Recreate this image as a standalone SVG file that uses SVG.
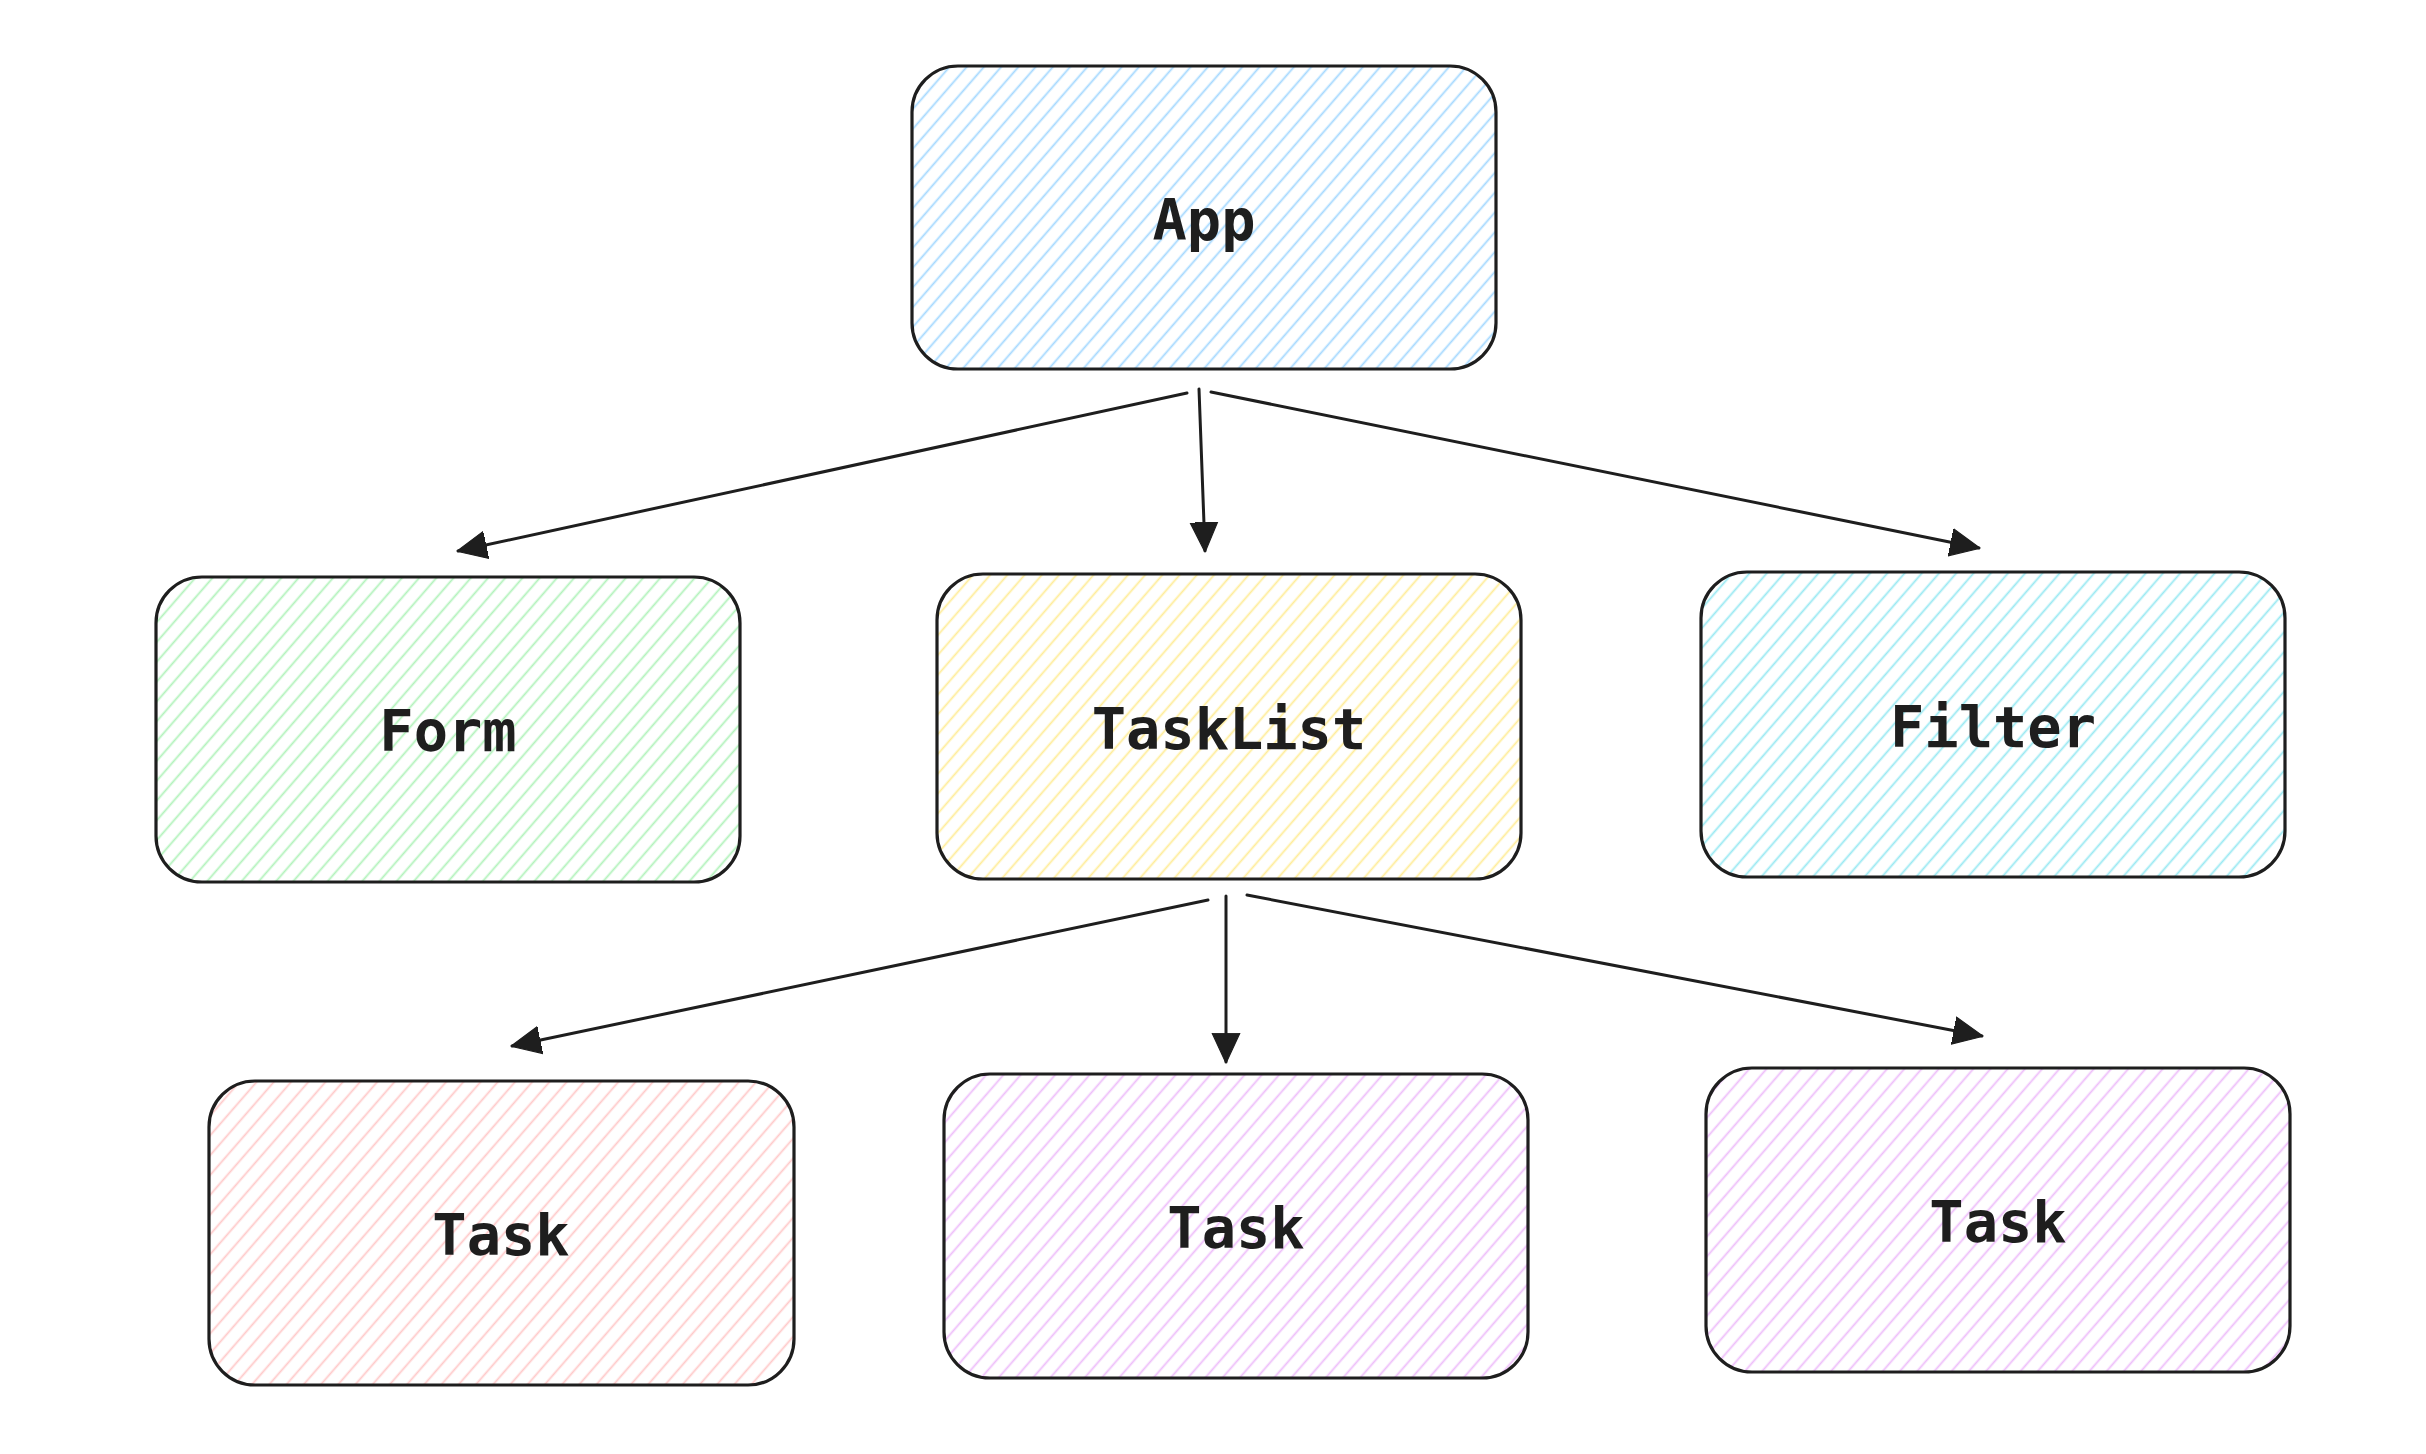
<svg xmlns="http://www.w3.org/2000/svg" width="2426" height="1454" viewBox="0 0 2426 1454">
<style>
.box{stroke:#1e1e1e;stroke-width:3.2}
.lbl{font-family:"DejaVu Sans Mono","Liberation Mono",monospace;font-size:57px;font-weight:bold;fill:#1e1e1e;text-anchor:middle}
.edge{fill:none;stroke:#1e1e1e;stroke-width:3;stroke-linecap:round}
</style>
<defs>
<pattern id="hBlue" patternUnits="userSpaceOnUse" width="13" height="13" patternTransform="rotate(41)"><line x1="6.5" y1="0" x2="6.5" y2="13" stroke="#a5d8ff" stroke-width="1.8"/></pattern>
<pattern id="hGreen" patternUnits="userSpaceOnUse" width="13" height="13" patternTransform="rotate(41)"><line x1="6.5" y1="0" x2="6.5" y2="13" stroke="#b2f2bb" stroke-width="1.8"/></pattern>
<pattern id="hYellow" patternUnits="userSpaceOnUse" width="13" height="13" patternTransform="rotate(41)"><line x1="6.5" y1="0" x2="6.5" y2="13" stroke="#ffec99" stroke-width="1.8"/></pattern>
<pattern id="hCyan" patternUnits="userSpaceOnUse" width="13" height="13" patternTransform="rotate(41)"><line x1="6.5" y1="0" x2="6.5" y2="13" stroke="#99e9f2" stroke-width="1.8"/></pattern>
<pattern id="hPink" patternUnits="userSpaceOnUse" width="13" height="13" patternTransform="rotate(41)"><line x1="6.5" y1="0" x2="6.5" y2="13" stroke="#ffc9c9" stroke-width="1.8"/></pattern>
<pattern id="hLav" patternUnits="userSpaceOnUse" width="13" height="13" patternTransform="rotate(41)"><line x1="6.5" y1="0" x2="6.5" y2="13" stroke="#eebefa" stroke-width="1.8"/></pattern>
<marker id="arrow" markerUnits="userSpaceOnUse" markerWidth="30" markerHeight="30" viewBox="0 0 26 24" refX="25" refY="12" orient="auto">
<path d="M0,0 L26,12 L0,24 Z" fill="#1e1e1e" stroke="#1e1e1e" stroke-width="1" stroke-linejoin="round"/>
</marker>
</defs>
<rect width="2426" height="1454" fill="#ffffff"/>
<g id="connectors">
<path class="edge" d="M1187,393 L458,551" marker-end="url(#arrow)"/>
<path class="edge" d="M1199,389 L1205,551" marker-end="url(#arrow)"/>
<path class="edge" d="M1211,392 L1979,548" marker-end="url(#arrow)"/>
<path class="edge" d="M1208,900 L512,1046" marker-end="url(#arrow)"/>
<path class="edge" d="M1226,896 L1226,1062" marker-end="url(#arrow)"/>
<path class="edge" d="M1247,895 L1982,1036" marker-end="url(#arrow)"/>
</g>
<g id="node-app">
<rect class="box" x="912" y="66" width="584" height="303" rx="46" fill="url(#hBlue)"/>
<text class="lbl" x="1204" y="240">App</text>
</g>
<g id="node-form">
<rect class="box" x="156" y="577" width="584" height="305" rx="46" fill="url(#hGreen)"/>
<text class="lbl" x="448" y="751">Form</text>
</g>
<g id="node-tasklist">
<rect class="box" x="937" y="574" width="584" height="305" rx="46" fill="url(#hYellow)"/>
<text class="lbl" x="1229" y="749">TaskList</text>
</g>
<g id="node-filter">
<rect class="box" x="1701" y="572" width="584" height="305" rx="46" fill="url(#hCyan)"/>
<text class="lbl" x="1993" y="747">Filter</text>
</g>
<g id="node-task1">
<rect class="box" x="209" y="1081" width="585" height="304" rx="46" fill="url(#hPink)"/>
<text class="lbl" x="501" y="1255">Task</text>
</g>
<g id="node-task2">
<rect class="box" x="944" y="1074" width="584" height="304" rx="46" fill="url(#hLav)"/>
<text class="lbl" x="1236" y="1248">Task</text>
</g>
<g id="node-task3">
<rect class="box" x="1706" y="1068" width="584" height="304" rx="46" fill="url(#hLav)"/>
<text class="lbl" x="1998" y="1242">Task</text>
</g>
</svg>
